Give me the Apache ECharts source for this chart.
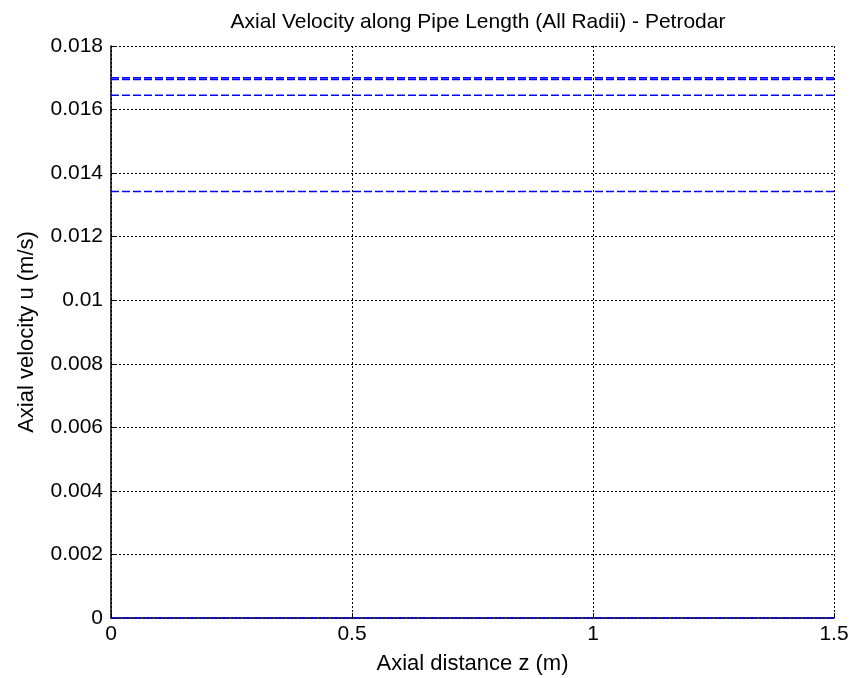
<!DOCTYPE html>
<html>
<head>
<meta charset="utf-8">
<script src="https://cdn.jsdelivr.net/npm/echarts@6/dist/echarts.min.js"></script>
<style>
  html, body { margin: 0; padding: 0; background: #fff; }
  #chart { width: 862px; height: 678px; }
</style>
</head>
<body>
<div id="chart"></div>
<script>
// Axial positions along the pipe (m)
const zPositions = [0, 1.5];
// Axial velocity at each radial position (m/s), constant along the pipe
const radialVelocities = [0.01700, 0.01695, 0.01645, 0.01342, 0];
const yTicks = [0, 0.002, 0.004, 0.006, 0.008, 0.01, 0.012, 0.014, 0.016, 0.018];
const xTicks = [0, 0.5, 1, 1.5];

const FONT = 'Liberation Sans, Arial, sans-serif';
const FS = 21;
const NAME_FS = 22;

const series = radialVelocities.map(function (u) {
  return {
    type: 'line',
    data: zPositions.map(function (z) { return [z, u]; }),
    symbol: 'none',
    silent: true,
    z: 5,
    lineStyle: { color: '#0000ff', width: 1.6, type: [8, 3] }
  };
});

const chart = echarts.init(document.getElementById('chart'), null, { renderer: 'canvas' });
chart.setOption({
  animation: false,
  backgroundColor: '#fff',
  title: {
    text: 'Axial Velocity along Pipe Length (All Radii) - Petrodar',
    left: 473, top: 7, textAlign: 'center',
    textStyle: { fontFamily: FONT, fontSize: FS, fontWeight: 'normal', color: '#000' }
  },
  grid: {
    left: 111, right: 28, top: 46, bottom: 60, show: false,
    containLabel: false, outerBoundsMode: 'none'
  },
  xAxis: {
    type: 'value', min: xTicks[0], max: xTicks[xTicks.length - 1], interval: 0.5,
    name: 'Axial distance z (m)', nameLocation: 'middle', nameGap: 35,
    nameTextStyle: { fontFamily: FONT, fontSize: NAME_FS, color: '#000' },
    axisLine: { show: true, onZero: false, lineStyle: { color: '#000', width: 1.5 } },
    axisTick: { show: true, inside: true, length: 5, lineStyle: { color: '#000' } },
    axisLabel: { fontFamily: FONT, fontSize: FS, color: '#000', margin: 6 },
    splitLine: { show: true, lineStyle: { color: '#000', width: 1, type: [2, 2] } }
  },
  yAxis: {
    type: 'value', min: yTicks[0], max: yTicks[yTicks.length - 1], interval: 0.002,
    name: 'Axial velocity u (m/s)', nameLocation: 'middle', nameGap: 73,
    nameTextStyle: { fontFamily: FONT, fontSize: NAME_FS, color: '#000' },
    axisLine: { show: true, onZero: false, lineStyle: { color: '#000', width: 1.5 } },
    axisTick: { show: true, inside: true, length: 5, lineStyle: { color: '#000' } },
    axisLabel: { fontFamily: FONT, fontSize: FS, color: '#000', margin: 8 },
    splitLine: { show: true, lineStyle: { color: '#000', width: 1, type: [2, 2] } }
  },
  series: series
});
</script>
</body>
</html>
